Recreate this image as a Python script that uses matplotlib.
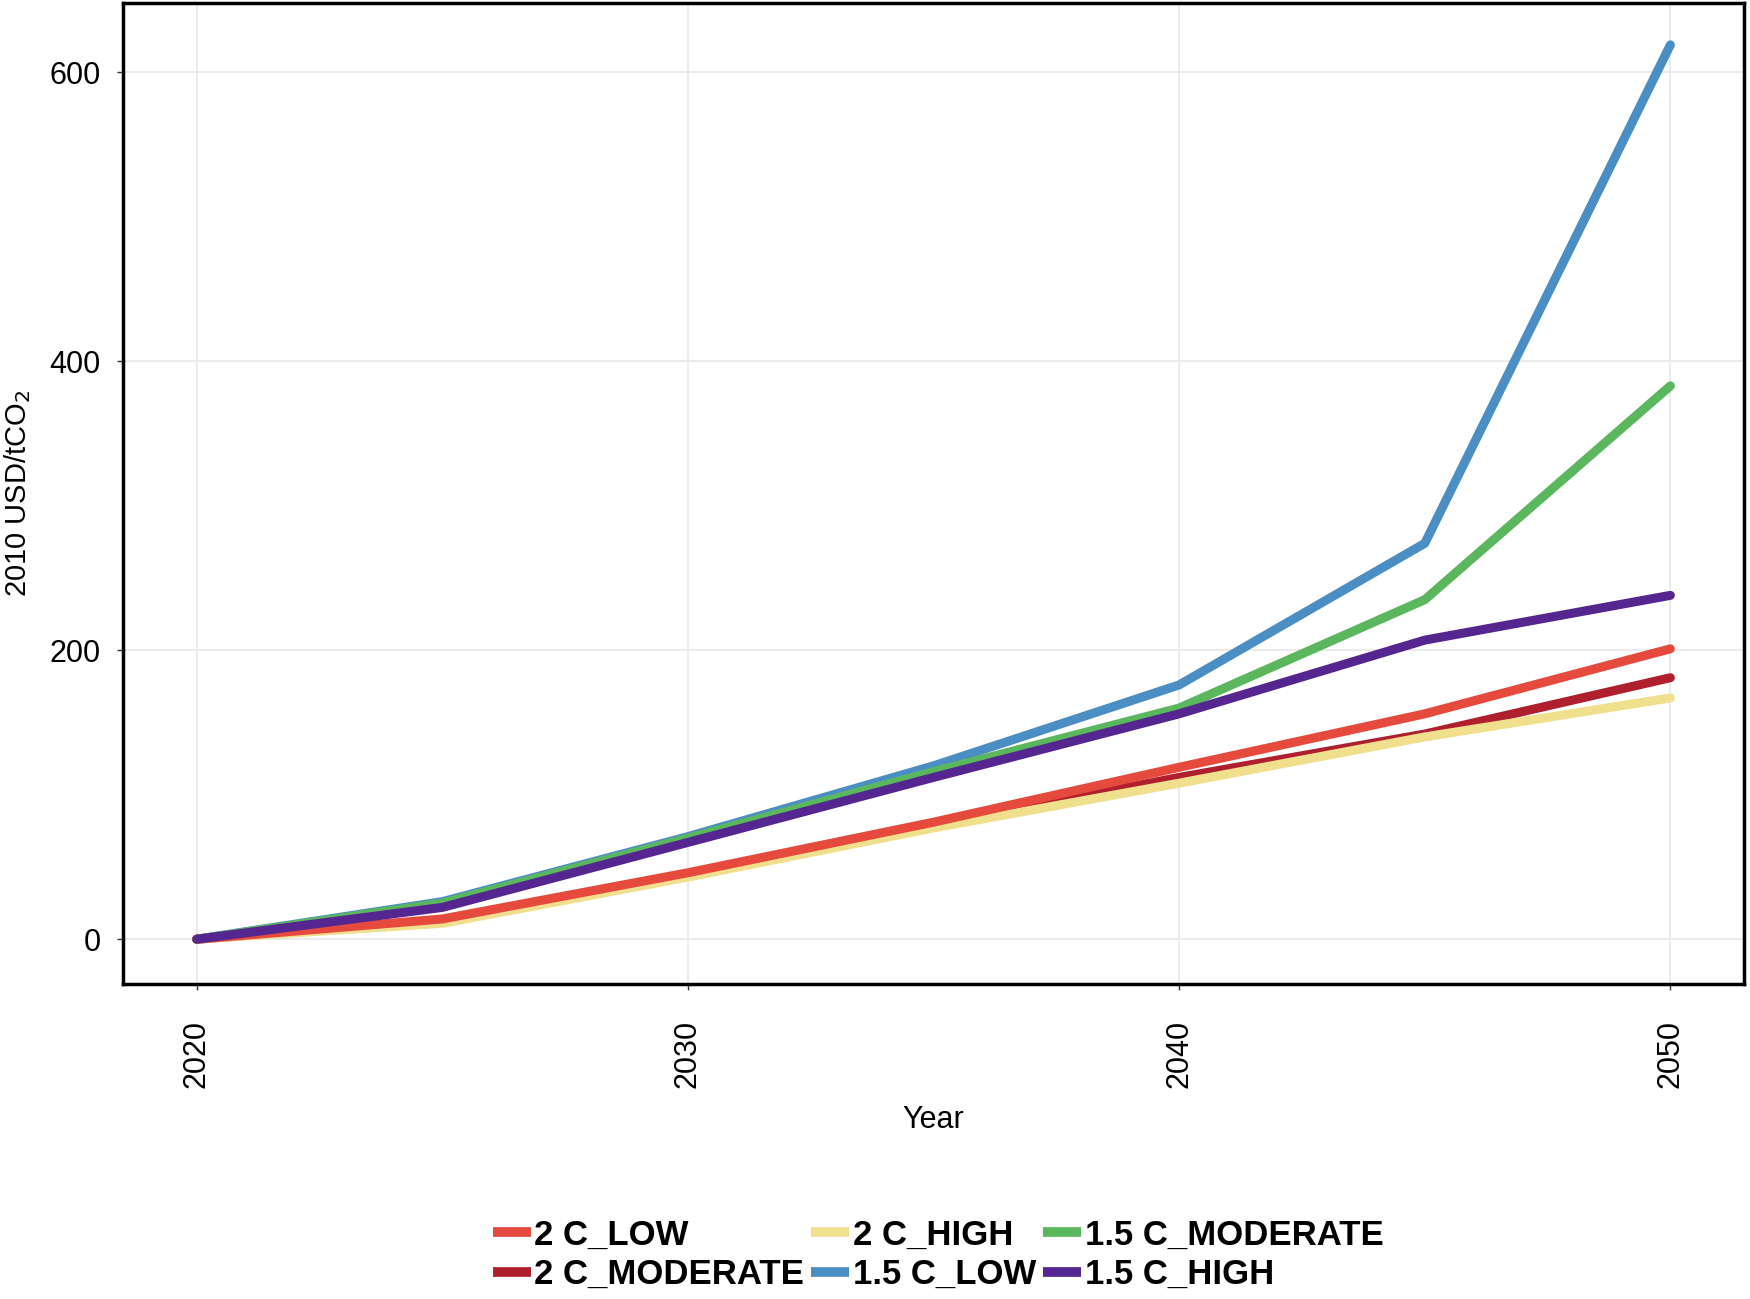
import numpy as np
import matplotlib.pyplot as plt

plt.rcParams['font.family'] = ['Liberation Sans', 'DejaVu Sans']

years = [2020, 2025, 2030, 2035, 2040, 2045, 2050]

c2_low = [0, 14, 46, 81, 119, 156, 201]
c2_moderate = [0, 13, 45, 79, 112, 142, 181]
c2_high = [0, 11, 43, 77, 108, 140, 167]
c15_low = [0, 26, 71, 120, 176, 274, 619]
c15_moderate = [0, 25, 70, 116, 160, 235, 383]
c15_high = [0, 22, 67, 112, 156, 207, 238]

labels = ['2 C_LOW', '2 C_MODERATE', '2 C_HIGH', '1.5 C_LOW', '1.5 C_MODERATE', '1.5 C_HIGH']
series = [c2_low, c2_moderate, c2_high, c15_low, c15_moderate, c15_high]
colors = ['#E64A3D', '#B01F2E', '#F0E08E', '#4A8EC4', '#5BB75E', '#55268F']
zorders = [4, 2, 3, 2, 3, 6]

fig = plt.figure(figsize=(17.5, 12.99), dpi=100)
ax = fig.add_axes([0.0703, 0.2425, 0.9263, 0.7552])

for lab, vals, col, z in zip(labels, series, colors, zorders):
    ax.plot(years, vals, color=col, lw=6.5, label=lab, zorder=z, solid_capstyle='round')

ax.set_xlim(2018.5, 2051.5)
ax.set_ylim(-31, 648)
ax.set_xticks([2020, 2030, 2040, 2050])
ax.set_yticks([0, 200, 400, 600])
ax.grid(True, color='#EBEBEB', lw=1.5, zorder=0)
ax.set_axisbelow(True)
for s in ax.spines.values():
    s.set_linewidth(2.5)
    s.set_color('black')
ax.tick_params(axis='both', labelsize=22, length=4, width=1, color='#333333', pad=12)
ax.tick_params(axis='x', labelrotation=90, pad=22)
ax.set_xlabel('Year', fontsize=22, labelpad=12)
ax.set_ylabel('2010 USD/tCO$_2$', fontsize=21, labelpad=12)

leg = fig.legend(loc='center', bbox_to_anchor=(0.536, 0.034), ncol=3, frameon=False,
                 prop={'size': 25, 'weight': 'bold'}, handlelength=1.1, handletextpad=0.1,
                 columnspacing=0.2, labelspacing=0.2)
for h in leg.get_lines():
    h.set_linewidth(7)
    h.set_solid_capstyle('butt')

fig.savefig('out.png', dpi=100)
